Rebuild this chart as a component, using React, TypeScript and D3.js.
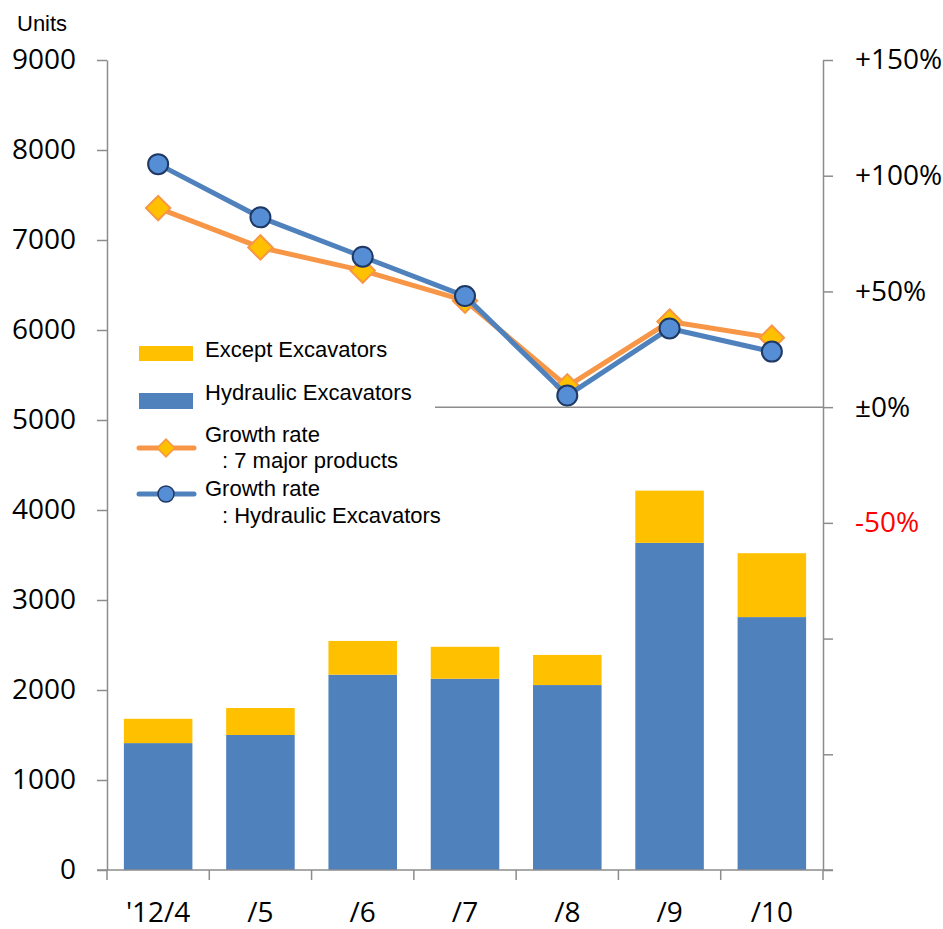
import React, { useEffect, useRef } from "react";
import * as d3 from "d3";

// values
const categories = ["'12/4", "/5", "/6", "/7", "/8", "/9", "/10"];
const hydraulic = [1410, 1500, 2170, 2125, 2055, 3635, 2810];
const exceptExc = [270, 300, 375, 355, 335, 580, 710];
const growthMajor = [86, 69, 59, 46, 9, 37, 30];
const growthHydraulic = [105, 82, 65, 48, 5, 34, 24];
const leftTicks = [0, 1000, 2000, 3000, 4000, 5000, 6000, 7000, 8000, 9000];
const rightTicks = [150, 100, 50, 0, -50, -100, -150, -200];
const rightLabels = ["+150%", "+100%", "+50%", "±0%", "-50%", "", "", ""];

const W = 943;
const H = 929;
const AXIS = "#8c8c8c";
const BLUE = "#4f81bd";
const YELLOW = "#ffc000";
const ORANGE = "#f79646";
const DOT = "#558ed5";
const DOT_EDGE = "#1f3864";
const NUM_FONT = "'Open Sans', 'DejaVu Sans', sans-serif";
const TXT_FONT = "'Liberation Sans', Arial, sans-serif";

export default function App() {
  const ref = useRef<SVGSVGElement>(null);

  useEffect(() => {
    document.body.style.margin = "0";
    const svg = d3.select(ref.current);
    svg.selectAll("*").remove();

    const left = 107;
    const right = 823;
    const top = 60;
    const bottom = 870;

    const x = d3
      .scaleBand()
      .domain(categories)
      .range([left, right])
      .paddingInner(0.33)
      .paddingOuter(0.165);
    const y = d3.scaleLinear().domain([0, 9000]).range([bottom, top]);
    const y2 = d3.scaleLinear().domain([-200, 150]).range([bottom, top]);

    // stacked bars
    const rows = categories.map((c, i) => ({ cat: c, hyd: hydraulic[i], exc: exceptExc[i] }));
    const stack = d3.stack<any>().keys(["hyd", "exc"])(rows);
    const colors = [BLUE, YELLOW];
    stack.forEach((layer, li) => {
      svg
        .append("g")
        .selectAll("rect")
        .data(layer)
        .enter()
        .append("rect")
        .attr("x", (d: any) => x(d.data.cat)!)
        .attr("width", x.bandwidth())
        .attr("y", (d) => y(d[1]))
        .attr("height", (d) => y(d[0]) - y(d[1]))
        .attr("fill", colors[li]);
    });

    // zero line of right axis
    svg
      .append("line")
      .attr("x1", 435)
      .attr("x2", right)
      .attr("y1", y2(0))
      .attr("y2", y2(0))
      .attr("stroke", AXIS)
      .attr("stroke-width", 1.5);

    // left axis
    const gl = svg
      .append("g")
      .attr("transform", `translate(${left},0)`)
      .call(
        d3
          .axisLeft(y)
          .tickValues(leftTicks)
          .tickFormat(d3.format("d"))
          .tickSize(10)
          .tickPadding(21)
          .tickSizeOuter(0)
      );
    gl.select(".domain").attr("stroke", AXIS).attr("stroke-width", 1.5);
    gl.selectAll(".tick line").attr("stroke", AXIS).attr("stroke-width", 1.5);
    gl.selectAll(".tick text")
      .attr("font-family", NUM_FONT)
      .attr("font-size", 28)
      .attr("fill", "#000");

    // right axis
    const gr = svg
      .append("g")
      .attr("transform", `translate(${right},0)`)
      .call(
        d3
          .axisRight(y2)
          .tickValues(rightTicks)
          .tickSize(10)
          .tickPadding(22)
          .tickSizeOuter(0)
          .tickFormat((d, i) => rightLabels[i])
      );
    gr.select(".domain").attr("stroke", AXIS).attr("stroke-width", 1.5);
    gr.selectAll(".tick line").attr("stroke", AXIS).attr("stroke-width", 1.5);
    gr.selectAll(".tick text")
      .attr("font-family", NUM_FONT)
      .attr("font-size", 28)
      .attr("fill", (d: any) => (d < 0 ? "#ff0000" : "#000"));

    // x axis with ticks between categories
    const gap = (x.step() - x.bandwidth()) / 2;
    const bounds = categories.map((c) => x(c)! - gap).concat([right]);
    svg
      .append("line")
      .attr("x1", left - 10)
      .attr("x2", right + 10)
      .attr("y1", bottom)
      .attr("y2", bottom)
      .attr("stroke", AXIS)
      .attr("stroke-width", 1.5);
    svg
      .append("g")
      .selectAll("line")
      .data(bounds)
      .enter()
      .append("line")
      .attr("x1", (d) => d)
      .attr("x2", (d) => d)
      .attr("y1", bottom)
      .attr("y2", bottom + 10)
      .attr("stroke", AXIS)
      .attr("stroke-width", 1.5);
    svg
      .append("g")
      .selectAll("text")
      .data(categories)
      .enter()
      .append("text")
      .attr("x", (d) => x(d)! + x.bandwidth() / 2)
      .attr("y", 922)
      .attr("text-anchor", "middle")
      .attr("font-family", NUM_FONT)
      .attr("font-size", 28)
      .text((d) => d);

    // growth lines
    const cx = (i: number) => x(categories[i])! + x.bandwidth() / 2;
    const line = d3
      .line<number>()
      .x((d, i) => cx(i))
      .y((d) => y2(d));

    svg
      .append("path")
      .datum(growthMajor)
      .attr("d", line)
      .attr("fill", "none")
      .attr("stroke", ORANGE)
      .attr("stroke-width", 5)
      .attr("stroke-linejoin", "round");
    const diamond = d3.symbol().type(d3.symbolDiamond2).size(380);
    svg
      .append("g")
      .selectAll("path")
      .data(growthMajor)
      .enter()
      .append("path")
      .attr("d", diamond()!)
      .attr("transform", (d, i) => `translate(${cx(i)},${y2(d)})`)
      .attr("fill", YELLOW)
      .attr("stroke", ORANGE)
      .attr("stroke-width", 2);

    svg
      .append("path")
      .datum(growthHydraulic)
      .attr("d", line)
      .attr("fill", "none")
      .attr("stroke", BLUE)
      .attr("stroke-width", 5)
      .attr("stroke-linejoin", "round");
    svg
      .append("g")
      .selectAll("circle")
      .data(growthHydraulic)
      .enter()
      .append("circle")
      .attr("cx", (d, i) => cx(i))
      .attr("cy", (d) => y2(d))
      .attr("r", 10)
      .attr("fill", DOT)
      .attr("stroke", DOT_EDGE)
      .attr("stroke-width", 2);

    // units label
    svg
      .append("text")
      .attr("x", 17)
      .attr("y", 31)
      .attr("font-family", TXT_FONT)
      .attr("font-size", 22)
      .text("Units");

    // legend
    const lg = svg.append("g").attr("font-family", TXT_FONT).attr("font-size", 22);
    lg.append("rect").attr("x", 139).attr("y", 346).attr("width", 54).attr("height", 15).attr("fill", YELLOW);
    lg.append("text").attr("x", 205).attr("y", 357).text("Except Excavators");
    lg.append("rect").attr("x", 139).attr("y", 393).attr("width", 54).attr("height", 16).attr("fill", BLUE);
    lg.append("text").attr("x", 205).attr("y", 400).text("Hydraulic Excavators");

    lg.append("line")
      .attr("x1", 139).attr("x2", 194).attr("y1", 448).attr("y2", 448)
      .attr("stroke", ORANGE).attr("stroke-width", 5).attr("stroke-linecap", "round");
    lg.append("path")
      .attr("d", d3.symbol().type(d3.symbolDiamond2).size(200)()!)
      .attr("transform", "translate(166,448)")
      .attr("fill", YELLOW).attr("stroke", ORANGE).attr("stroke-width", 1.5);
    lg.append("text").attr("x", 205).attr("y", 442).text("Growth rate");
    lg.append("text").attr("x", 222).attr("y", 468).text(": 7 major products");

    lg.append("line")
      .attr("x1", 139).attr("x2", 194).attr("y1", 494).attr("y2", 494)
      .attr("stroke", BLUE).attr("stroke-width", 5).attr("stroke-linecap", "round");
    lg.append("circle")
      .attr("cx", 166).attr("cy", 494).attr("r", 8)
      .attr("fill", DOT).attr("stroke", DOT_EDGE).attr("stroke-width", 1.5);
    lg.append("text").attr("x", 205).attr("y", 496).text("Growth rate");
    lg.append("text").attr("x", 222).attr("y", 523).text(": Hydraulic Excavators");
  }, []);

  return <svg ref={ref} width={W} height={H} style={{ display: "block", background: "#fff" }} />;
}
